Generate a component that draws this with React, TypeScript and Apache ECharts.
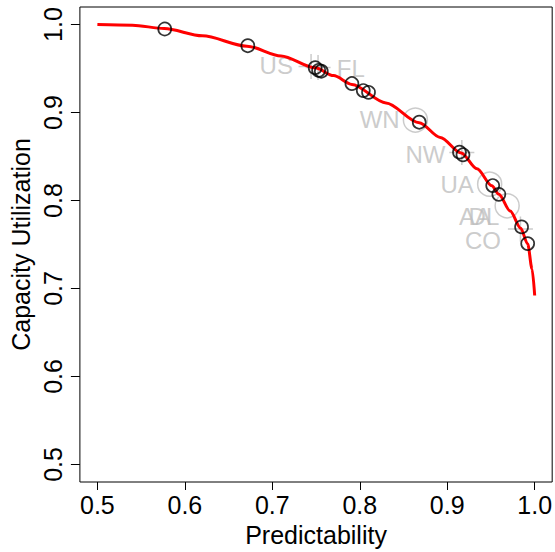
import React, { useEffect, useRef } from "react";
import * as echarts from "echarts";

// Frontier curve
const curveX = [0.5, 0.54, 0.5765, 0.62, 0.671, 0.71, 0.749, 0.77, 0.791, 0.83, 0.868, 0.892, 0.916, 0.934, 0.951, 0.959, 0.972, 0.984, 0.992, 0.997, 1.0];
const curveY = [1.0, 0.9993, 0.9955, 0.9872, 0.9755, 0.9644, 0.951, 0.942, 0.932, 0.911, 0.8885, 0.8717, 0.854, 0.836, 0.8167, 0.807, 0.788, 0.7684, 0.7506, 0.7222, 0.692];

// Observed points (black circles)
const pointX = [0.577, 0.672, 0.749, 0.753, 0.756, 0.791, 0.804, 0.81, 0.868, 0.914, 0.918, 0.952, 0.959, 0.985, 0.992];
const pointY = [0.995, 0.976, 0.951, 0.948, 0.947, 0.933, 0.925, 0.923, 0.889, 0.855, 0.852, 0.817, 0.807, 0.77, 0.751];

// Gray reference markers
const grayCircleX = [0.8636, 0.9485, 0.9685];
const grayCircleY = [0.8915, 0.8186, 0.794];
const grayPlusX = [0.7443, 0.7523, 0.9167, 0.9837];
const grayPlusY = [0.9524, 0.9512, 0.8545, 0.7676];

// Airline labels
const labelText = ["US", "FL", "WN", "NW", "UA", "AA", "DL", "CO"];
const labelX = [0.7045, 0.7898, 0.8227, 0.875, 0.9114, 0.9318, 0.942, 0.9409];
const labelY = [0.953, 0.9501, 0.8923, 0.8526, 0.8186, 0.7823, 0.7823, 0.754];

// Axis ticks
const xTicks = [0.5, 0.6, 0.7, 0.8, 0.9, 1.0];
const yTicks = [0.5, 0.6, 0.7, 0.8, 0.9, 1.0];

const FONT = "'Liberation Sans', Arial, sans-serif";
const GRAY = "#bebebe";

export default function App() {
  const ref = useRef<HTMLDivElement>(null);
  useEffect(() => {
    if (!ref.current) return;
    const chart = echarts.init(ref.current, undefined, { renderer: "svg" });
    const zip = (a: number[], b: number[]) => a.map((v, i) => [v, b[i]]);
    chart.setOption({
      animation: false,
      backgroundColor: "#ffffff",
      grid: {
        left: 78,
        right: 2,
        top: 7,
        bottom: 69,
        show: true,
        borderColor: "#000",
        borderWidth: 1,
        backgroundColor: "transparent",
      },
      xAxis: {
        type: "value",
        min: 0.48,
        max: 1.02,
        name: "Predictability",
        nameLocation: "middle",
        nameGap: 40,
        nameTextStyle: { fontSize: 25, color: "#000", fontFamily: FONT },
        axisLine: { show: false },
        splitLine: { show: false },
        axisTick: { show: true, customValues: xTicks, length: 8, lineStyle: { color: "#000", width: 1 } },
        axisLabel: {
          customValues: xTicks,
          fontSize: 25,
          color: "#000",
          fontFamily: FONT,
          margin: 10,
          formatter: (v: number) => v.toFixed(1),
        },
      },
      yAxis: {
        type: "value",
        min: 0.48,
        max: 1.02,
        name: "Capacity Utilization",
        nameLocation: "middle",
        nameGap: 43,
        nameRotate: 90,
        nameTextStyle: { fontSize: 25, color: "#000", fontFamily: FONT },
        axisLine: { show: false },
        splitLine: { show: false },
        axisTick: { show: true, customValues: yTicks, length: 9, lineStyle: { color: "#000", width: 1 } },
        axisLabel: {
          customValues: yTicks,
          rotate: 90,
          fontSize: 25,
          color: "#000",
          fontFamily: FONT,
          margin: 14,
          formatter: (v: number) => v.toFixed(1),
        },
      },
      series: [
        {
          type: "scatter",
          data: zip(grayCircleX, grayCircleY),
          symbol: "circle",
          symbolSize: 24,
          itemStyle: { color: "transparent", borderColor: GRAY, borderWidth: 1.5 },
          z: 1,
        },
        {
          type: "scatter",
          data: zip(grayPlusX, grayPlusY),
          symbol: "path://M12,0 L12,24 M0,12 L24,12",
          symbolSize: 25,
          itemStyle: { color: "transparent", borderColor: GRAY, borderWidth: 1.5 },
          z: 1,
        },
        {
          type: "scatter",
          data: labelX.map((x, i) => ({ value: [x, labelY[i]], name: labelText[i] })),
          symbolSize: 0,
          label: {
            show: true,
            position: "inside",
            formatter: (p: any) => p.name,
            fontSize: 24,
            color: GRAY,
            fontFamily: FONT,
          },
          z: 2,
        },
        {
          type: "line",
          data: zip(curveX, curveY),
          showSymbol: false,
          symbol: "none",
          smooth: 0.3,
          smoothMonotone: "x",
          lineStyle: { color: "#ff0000", width: 3 },
          z: 3,
        },
        {
          type: "scatter",
          data: zip(pointX, pointY),
          symbol: "circle",
          symbolSize: 13,
          itemStyle: { color: "transparent", borderColor: "#000", borderWidth: 1.7 },
          z: 4,
        },
      ],
    });
    return () => chart.dispose();
  }, []);
  return (
    <div
      ref={ref}
      style={{ position: "fixed", left: 0, top: 0, width: 555, height: 552, background: "#fff" }}
    />
  );
}
